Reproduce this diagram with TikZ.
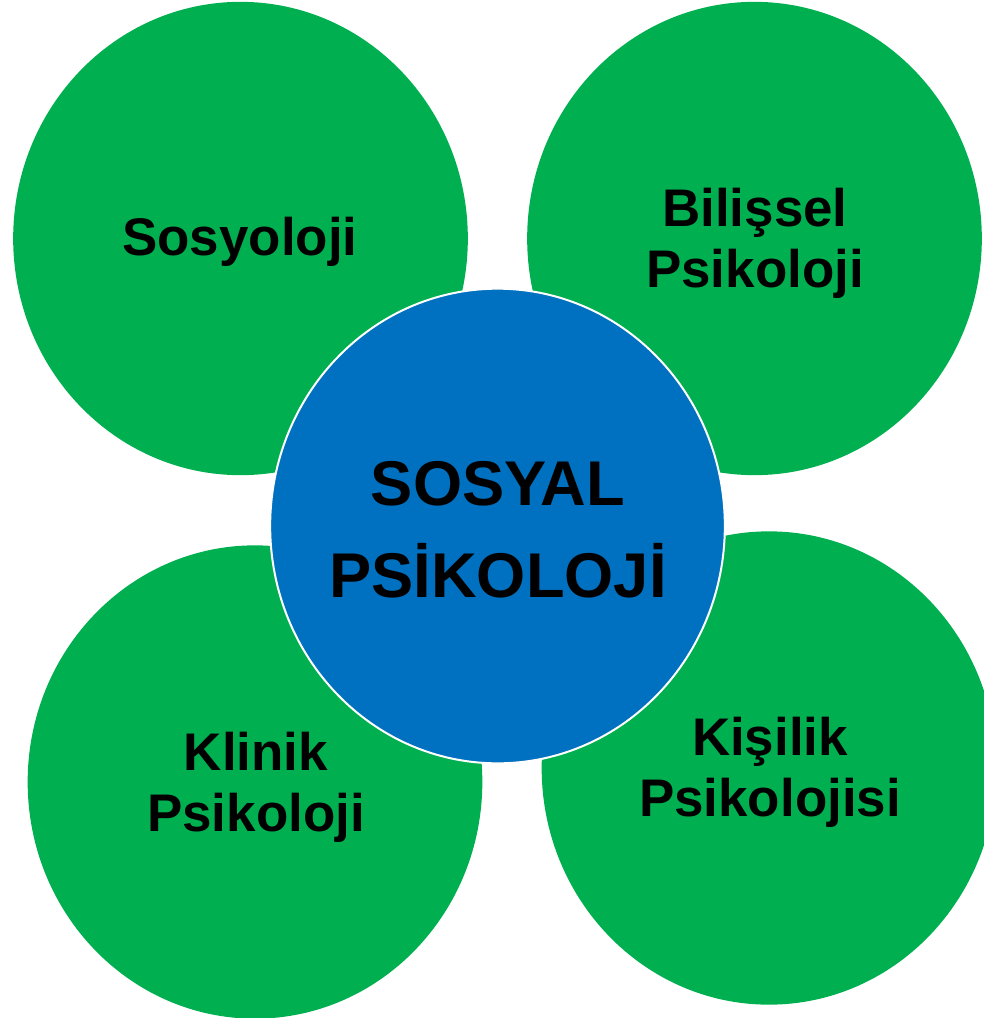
\documentclass[tikz,border=0pt]{standalone}
\usepackage{fontspec}
\setmainfont{Liberation Sans}
\usetikzlibrary{shapes.geometric}
\definecolor{ogreen}{HTML}{00B050}
\definecolor{oblue}{HTML}{0070C0}
\tikzset{
  bubble/.style={ellipse, fill=ogreen, draw=none, inner sep=0pt,
    minimum width=341pt, minimum height=355pt},
  core/.style={ellipse, fill=oblue, draw=white, line width=1.5pt, inner sep=0pt,
    minimum width=341pt, minimum height=356pt},
  gtext/.style={align=center, text=black, font=\fontsize{39.7}{45.5}\selectfont\bfseries},
  btext/.style={align=center, text=black, font=\fontsize{47.4}{69}\selectfont\bfseries}
}
\begin{document}
\begin{tikzpicture}[x=0.75pt,y=-0.75pt]
\useasboundingbox (0,0) rectangle (984,1018);
\node[bubble] (sos) at (240.5,238.5) {};
\node[bubble] (bil) at (754.5,238.5) {};
\node[bubble] (kli) at (255,782) {};
\node[bubble] (kis) at (769,768) {};
\node[core] (mid) at (497.5,526) {};
\node[gtext] (tsos) at (240,242) {Sosyoloji};
\node[gtext] (tbil) at (755,243) {Bilişsel\\Psikoloji};
\node[gtext] (tkli) at (256,787) {Klinik\\Psikoloji};
\node[gtext] (tkis) at (770,772) {Kişilik\\Psikolojisi};
\node[btext] (tmid) at (498,530) {SOSYAL\\PSİKOLOJİ};
\end{tikzpicture}
\end{document}
